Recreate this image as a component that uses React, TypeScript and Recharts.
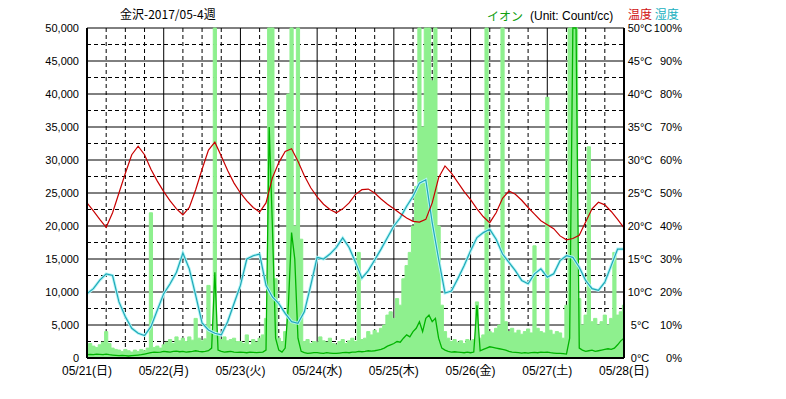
import { ComposedChart, Area, Line, XAxis, YAxis, CartesianGrid } from 'recharts';

const dayLabels = ['05/21(日)', '05/22(月)', '05/23(火)', '05/24(水)', '05/25(木)', '05/26(金)', '05/27(土)', '05/28(日)'];
const dayTicks = [0, 24, 48, 72, 96, 120, 144, 168];
const ionTicks = [0, 5000, 10000, 15000, 20000, 25000, 30000, 35000, 40000, 45000, 50000];
const tempTicks = [0, 5, 10, 15, 20, 25, 30, 35, 40, 45, 50];

// ion count, hourly (max = light green, mean = dark green)
const ionMax = [
  1500, 2200, 1800, 1600, 2000, 2400, 4000, 2200, 1500, 1300, 1200, 1000,
  1300, 1100, 900, 1200, 1000, 1300, 1100, 1500, 22000, 1600, 1800, 1500,
  2000, 2400, 2800, 2200, 3200, 2600, 3000, 2500, 3200, 2700, 6000, 3000,
  2600, 2900, 11000, 4000, 50000, 3500, 2800, 3200, 2600, 2800, 3000, 2500,
  2500, 2200, 3500, 2000, 2800, 2400, 3000, 3500, 6000, 50000, 50000, 12000,
  3000, 2500, 4000, 40000, 50000, 20000, 50000, 18000, 2500, 2800, 2200, 2500,
  2400, 3200, 2600, 2400, 3000, 2200, 2000, 2500, 2800, 2200, 2600, 3000,
  2500, 16000, 2800, 3000, 4000, 3500, 4200, 3800, 4500, 5000, 6500, 7000,
  6000, 9000, 8000, 12000, 14000, 16000, 20000, 26000, 50000, 35000, 50000, 50000,
  42000, 50000, 20000, 8000, 4000, 3000, 2500, 2800, 2400, 2600, 2200, 2800,
  2600, 2800, 8500, 3000, 3500, 50000, 4000, 3800, 4500, 5000, 50000, 5500,
  4000, 4500, 3800, 4200, 3600, 4000, 4400, 3800, 17000, 4500, 4000, 3800,
  39500, 4200, 3600, 4000, 3800, 3000, 8000, 50000, 50000, 50000, 9000, 5000,
  6500, 32000, 5500, 6000, 5000, 5500, 6500, 5000, 6000, 16000, 6500, 7000,
  8000,
];

const ionAvg = [
  500, 550, 500, 600, 550, 500, 600, 500, 450, 400, 350, 400,
  350, 300, 350, 400, 450, 500, 600, 700, 800, 900, 850, 900,
  1000, 950, 900, 1000, 1050, 950, 1000, 900, 950, 1000, 1100, 1000,
  950, 1000, 1100, 1500, 13000, 1200, 1000, 900, 950, 1000, 900, 850,
  900, 850, 800, 900, 850, 800, 850, 900, 1200, 35000, 20000, 3000,
  1200, 900, 1500, 8000, 19000, 15000, 3000, 1000, 800, 700, 750, 800,
  800, 750, 700, 800, 750, 700, 700, 750, 800, 850, 800, 900,
  900, 1000, 950, 1000, 1100, 1050, 1100, 1200, 1300, 1500, 1800, 2000,
  2200, 2500, 2400, 3000, 3500, 3200, 4000, 4500, 5500, 4000, 6000, 6500,
  5500, 6000, 3000, 1500, 1200, 1000, 900, 950, 900, 850, 800, 900,
  800, 900, 8000, 1100, 1300, 1500, 1700, 1600, 1500, 1400, 1300, 1200,
  1000, 900, 850, 800, 750, 800, 750, 800, 850, 800, 900, 850,
  900, 800, 750, 700, 700, 650, 600, 3000, 50000, 50000, 1500, 1200,
  1000, 1100, 1200, 1000, 1100, 1200, 1300, 1400, 1300, 1500, 2000, 2600,
  3000,
];

// every 2 hours
const temperature = [
  23.5, 22.3, 21.0, 19.8, 22.0, 25.0, 28.0, 30.8, 32.1, 30.8,
  28.6, 26.8, 25.2, 23.8, 22.6, 21.7, 22.8, 25.5, 28.6, 31.5,
  32.7, 30.6, 28.4, 26.5, 25.0, 23.8, 22.8, 22.1, 23.5, 27.3,
  29.6, 31.3, 31.7, 29.8, 27.6, 25.8, 24.4, 23.3, 22.5, 22.0,
  22.6, 23.5, 24.8, 25.5, 25.6, 25.0, 24.1, 23.3, 22.6, 21.9,
  21.2, 20.7, 20.6, 21.0, 23.5, 27.3, 29.1, 28.0, 26.6, 25.2,
  24.0, 22.6, 21.4, 20.5, 22.0, 24.2, 25.3, 24.8, 23.9, 22.8,
  21.8, 20.8, 20.2, 19.6, 18.5, 17.9, 18.1, 18.6, 20.6, 22.6,
  23.6, 23.2, 22.2, 21.0, 19.7,
];

const humidity = [
  19.5, 21, 23.6, 25.5, 25, 17, 12.5, 9, 7.5, 6.8,
  9.5, 14.5, 19.5, 22.5, 26, 31.8, 27, 19, 10.6, 8.5,
  7.5, 7, 11, 16.5, 22, 30, 31, 31.5, 22, 18.5,
  16.5, 13.5, 11, 10.5, 14, 22, 30.5, 30, 31.5, 33.5,
  36.4, 33.5, 29, 24.2, 26.5, 29.7, 33, 36.5, 40, 42.5,
  46, 49, 53, 54, 41, 30, 19.7, 20.3, 24, 28,
  32.5, 36.5, 38, 39, 36, 31.5, 29, 26.5, 23.5, 22.5,
  25.5, 27, 24.5, 25.5, 29.5, 31, 30.5, 27.5, 23.5, 21,
  20.5, 23, 28, 33, 33,
];

const data = ionMax.map((v, h) => ({
  h,
  ionMax: v,
  ionAvg: ionAvg[h],
  temp: h % 2 === 0 ? temperature[h / 2] : null,
  hum: h % 2 === 0 ? humidity[h / 2] : null,
}));

const minorIon = ionTicks.slice(1).map((v) => v - 2500);
const minorHours = [6, 12, 18, 30, 36, 42, 54, 60, 66, 78, 84, 90, 102, 108, 114, 126, 132, 138, 150, 156, 162];

const font = '"Liberation Sans", Arial, "Noto Sans CJK JP", sans-serif';

const RightTick = ({ x, y, payload }: any) => (
  <g fontFamily={font} fontSize={11} fill="#000">
    <text x={x + 8} y={y} dy={4} textAnchor="middle">{payload.value}°C</text>
    <text x={x + 50} y={y} dy={4} textAnchor="end">{payload.value * 2}%</text>
  </g>
);

export default function App() {
  return (
    <div style={{ position: 'absolute', left: 0, top: 0, width: 786, height: 399, background: '#fff' }}>
      <ComposedChart width={786} height={399} data={data} margin={{ top: 28, right: 100, bottom: 16, left: 7 }}>
        <CartesianGrid yAxisId="ion" horizontalValues={minorIon} verticalValues={minorHours} stroke="#000" strokeDasharray="4 3" />
        <CartesianGrid yAxisId="ion" horizontalValues={ionTicks} verticalValues={dayTicks} stroke="#000" />
        <XAxis
          dataKey="h"
          type="number"
          domain={[0, 168]}
          ticks={dayTicks}
          tickFormatter={(v) => dayLabels[dayTicks.indexOf(v)]}
          tickLine={false}
          axisLine={{ stroke: '#000', strokeWidth: 2 }}
          tick={{ fill: '#000', fontSize: 12, fontFamily: font }}
          height={25}
          interval={0}
        />
        <XAxis xAxisId="top" orientation="top" type="number" domain={[0, 168]} tick={false} tickLine={false} height={0} axisLine={{ stroke: '#000', strokeWidth: 2 }} />
        <YAxis
          yAxisId="ion"
          domain={[0, 50000]}
          ticks={ionTicks}
          tickFormatter={(v) => v.toLocaleString('en-US')}
          tickLine={false}
          axisLine={{ stroke: '#000', strokeWidth: 2 }}
          tick={{ fill: '#000', fontSize: 11, fontFamily: font }}
          width={80}
          interval={0}
        />
        <YAxis
          yAxisId="temp"
          orientation="right"
          domain={[0, 50]}
          ticks={tempTicks}
          tickLine={false}
          axisLine={{ stroke: '#000', strokeWidth: 2 }}
          tick={<RightTick />}
          width={62}
          interval={0}
        />
        <YAxis yAxisId="hum" orientation="right" domain={[0, 100]} width={0} hide />
        <Area yAxisId="ion" type="step" dataKey="ionMax" stroke="#8ef08e" strokeWidth={1} fill="#8ef08e" fillOpacity={1} isAnimationActive={false} />
        <Line yAxisId="ion" type="linear" dataKey="ionAvg" stroke="#00b400" strokeWidth={1.3} dot={false} isAnimationActive={false} />
        <Line yAxisId="hum" type="linear" dataKey="hum" stroke="#b4f6f6" strokeWidth={3} dot={false} connectNulls isAnimationActive={false} />
        <Line yAxisId="hum" type="linear" dataKey="hum" stroke="#20a8b8" strokeWidth={1.2} dot={false} connectNulls isAnimationActive={false} />
        <Line yAxisId="temp" type="linear" dataKey="temp" stroke="#c80000" strokeWidth={1.2} dot={false} connectNulls isAnimationActive={false} />
      </ComposedChart>
      <div style={{ position: 'absolute', left: 120, top: 6, fontFamily: '"Noto Sans CJK JP", sans-serif', fontSize: 12, lineHeight: '16px', color: '#000' }}>
        金沢-2017/05-4週
      </div>
      <div style={{ position: 'absolute', left: 487, top: 8, fontFamily: '"Noto Sans CJK JP", sans-serif', fontSize: 12, lineHeight: '16px', color: '#10a010' }}>
        イオン
      </div>
      <div style={{ position: 'absolute', left: 530, top: 8, fontFamily: font, fontSize: 12, lineHeight: '16px', color: '#000' }}>
        (Unit: Count/cc)
      </div>
      <div style={{ position: 'absolute', left: 628, top: 6, fontFamily: '"Noto Sans CJK JP", sans-serif', fontSize: 12, lineHeight: '16px' }}>
        <span style={{ color: '#d01010' }}>温度</span> <span style={{ color: '#20b0c0' }}>湿度</span>
      </div>
    </div>
  );
}
